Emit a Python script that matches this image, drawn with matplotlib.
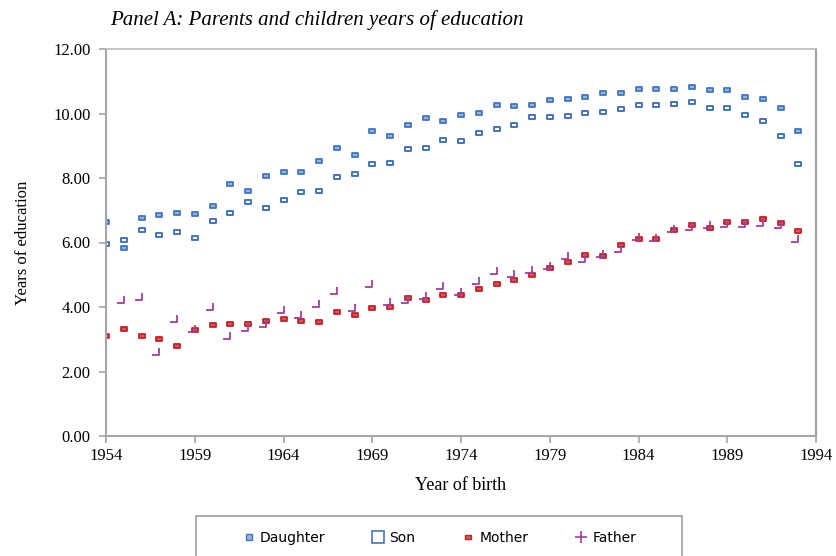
import numpy as np
import matplotlib
matplotlib.use("Agg")
import matplotlib.pyplot as plt
from matplotlib.path import Path
from matplotlib.lines import Line2D
from matplotlib.patches import Rectangle

# === data ===
years = list(range(1954, 1994))

daughter = [6.64, 5.82, 6.75, 6.85, 6.93, 6.89, 7.14, 7.81, 7.61, 8.06,
            8.18, 8.18, 8.53, 8.92, 8.70, 9.46, 9.31, 9.63, 9.85, 9.78,
            9.95, 10.03, 10.27, 10.23, 10.27, 10.42, 10.45, 10.52, 10.63, 10.63,
            10.77, 10.77, 10.77, 10.81, 10.73, 10.73, 10.52, 10.45, 10.16, 9.45]

son = [5.94, 6.08, 6.40, 6.22, 6.33, 6.15, 6.68, 6.93, 7.25, 7.07,
       7.32, 7.57, 7.61, 8.03, 8.13, 8.42, 8.45, 8.89, 8.92, 9.17,
       9.14, 9.39, 9.53, 9.63, 9.88, 9.88, 9.92, 10.03, 10.06, 10.13,
       10.27, 10.27, 10.31, 10.35, 10.16, 10.16, 9.95, 9.78, 9.31, 8.42]

mother = [3.11, 3.33, 3.11, 3.01, 2.79, 3.29, 3.43, 3.47, 3.47, 3.58,
          3.62, 3.58, 3.54, 3.85, 3.75, 3.97, 4.01, 4.27, 4.22, 4.36,
          4.36, 4.55, 4.72, 4.83, 5.00, 5.21, 5.40, 5.60, 5.58, 5.92,
          6.12, 6.12, 6.39, 6.53, 6.44, 6.64, 6.64, 6.74, 6.60, 6.36]

father = [2.54, 4.11, 4.22, 2.52, 3.53, 3.22, 3.91, 3.02, 3.27, 3.38,
          3.82, 3.67, 3.99, 4.39, 3.89, 4.63, 4.06, 4.13, 4.24, 4.55,
          4.37, 4.71, 5.02, 4.92, 5.06, 5.18, 5.48, 5.41, 5.56, 5.69,
          6.08, 6.06, 6.33, 6.39, 6.44, 6.49, 6.49, 6.52, 6.44, 6.03]

y_ticks = [0, 2, 4, 6, 8, 10, 12]
x_ticks = list(range(1954, 1995, 5))

# === custom markers ===
box = Path([(-1.35, -1), (1.35, -1), (1.35, 1), (-1.35, 1), (-1.35, -1)],
           [Path.MOVETO, Path.LINETO, Path.LINETO, Path.LINETO, Path.CLOSEPOLY])
dash = Path([(-1.7, -1), (1.7, -1), (1.7, 1), (-1.7, 1), (-1.7, -1)],
            [Path.MOVETO, Path.LINETO, Path.LINETO, Path.LINETO, Path.CLOSEPOLY])
half_plus = Path([(-1, 0), (0, 0), (0, 1)], [Path.MOVETO, Path.LINETO, Path.LINETO])

blue = '#4275BE'
red = '#C42127'
purple = '#A0409E'
gray = '#A6A6A6'

fig = plt.figure(figsize=(8.37, 5.56), dpi=100)
ax = fig.add_axes([106 / 837, 1 - 436 / 556, (816 - 106) / 837, (436 - 49) / 556])

ax.plot(years, daughter, ls='none', marker=box, ms=4.8, mew=1.3,
        mec=blue, mfc='#93B3E0')
ax.plot(years, son, ls='none', marker=box, ms=4.8, mew=1.4,
        mec=blue, mfc='white')
ax.plot(years, mother, ls='none', marker=dash, ms=4.6, mew=1.3,
        mec=red, mfc='#D9555B')
ax.plot(years, father, ls='none', marker=half_plus, ms=10, mew=1.3,
        mec=purple, mfc='none')

ax.set_xlim(1954, 1994)
ax.set_ylim(0, 12)
ax.set_xticks(x_ticks)
ax.set_yticks(y_ticks)
ax.set_yticklabels([f"{v:.2f}" for v in y_ticks])

for side in ['left', 'bottom']:
    ax.spines[side].set_color(gray)
    ax.spines[side].set_linewidth(1.5)
ax.spines['top'].set_color('#C0C0C0')
ax.spines['top'].set_linewidth(1.3)
ax.spines['right'].set_color('#A0A0A0')
ax.spines['right'].set_linewidth(1.6)

ax.tick_params(axis='both', direction='out', length=5, width=1.2, color=gray,
               labelsize=12, labelcolor='black')
ax.tick_params(axis='y', pad=6)
ax.tick_params(axis='x', pad=4)
for lab in ax.get_xticklabels() + ax.get_yticklabels():
    lab.set_fontfamily('Liberation Serif')

ax.set_xlabel("Year of birth", fontfamily='Liberation Serif', fontsize=13, labelpad=9)
ax.set_ylabel("Years of education", fontfamily='Liberation Serif', fontsize=12, labelpad=16)

fig.text(110 / 837, 1 - 20 / 556, "Panel A: Parents and children years of education",
         fontfamily='Liberation Serif', fontstyle='italic', fontsize=15,
         ha='left', va='center')

# === legend ===
handles = [
    Line2D([], [], ls='none', marker='s', ms=4.5, mew=1.0, mec=blue, mfc='#93B3E0'),
    Line2D([], [], ls='none', marker='s', ms=8, mew=1.2, mec=blue, mfc='white'),
    Line2D([], [], ls='none', marker=dash, ms=4.0, mew=1.0, mec=red, mfc='#D9555B'),
    Line2D([], [], ls='none', marker='+', ms=9, mew=1.2, mec=purple),
]
labels = ["Daughter", "Son", "Mother", "Father"]
fig.legend(handles, labels, loc='center', bbox_to_anchor=(439 / 837, 1 - 538 / 556),
           ncol=4, frameon=False, prop={'family': 'DejaVu Sans', 'size': 10},
           handlelength=1.0, handletextpad=0.3, columnspacing=3.3)

fig.patches.append(Rectangle((196 / 837, -0.05), (682 - 196) / 837, 0.05 + 40 / 556,
                             transform=fig.transFigure, fill=False,
                             edgecolor='#A6A6A6', linewidth=1.3))

fig.savefig("out.png", dpi=100)
